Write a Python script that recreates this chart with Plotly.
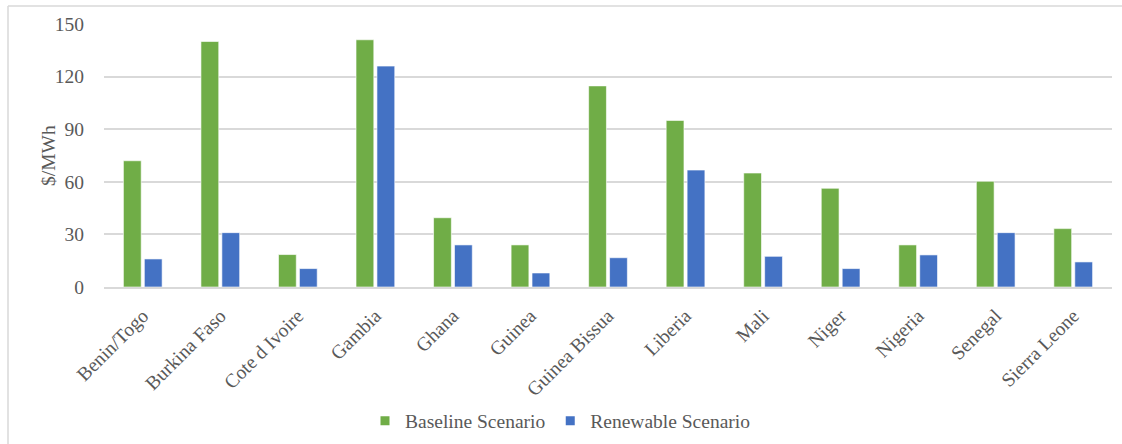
import plotly.graph_objects as go

countries = ["Benin/Togo", "Burkina Faso", "Cote d Ivoire", "Gambia", "Ghana", "Guinea",
             "Guinea Bissua", "Liberia", "Mali", "Niger", "Nigeria", "Senegal", "Sierra Leone"]
baseline = [72, 140, 18.5, 141, 39.5, 24, 114.7, 95, 65, 56.3, 24, 60.3, 33.3]
renewable = [16, 31, 10.5, 126, 24, 8, 16.7, 66.7, 17.5, 10.5, 18.3, 31, 14.3]
yticks = [0, 30, 60, 90, 120, 150]

GREEN = "#70ad47"
BLUE = "#4472c4"
FONT = "Liberation Serif"
GREY = "#595959"
FS = 19.5

fig = go.Figure()
fig.add_trace(go.Bar(x=countries, y=baseline, name="Baseline Scenario", marker_color=GREEN,
                     marker_line=dict(color="rgba(255,255,255,0.6)", width=1), showlegend=False))
fig.add_trace(go.Bar(x=countries, y=renewable, name="Renewable Scenario", marker_color=BLUE,
                     marker_line=dict(color="rgba(255,255,255,0.6)", width=1), showlegend=False))
# legend proxies
fig.add_trace(go.Scatter(x=[None], y=[None], mode="markers", name="Baseline Scenario",
                         marker=dict(symbol="square", size=9, color=GREEN)))
fig.add_trace(go.Scatter(x=[None], y=[None], mode="markers", name="Renewable Scenario",
                         marker=dict(symbol="square", size=9, color=BLUE)))

L, R, T, B = 104, 10, 24, 157
W, H = 1122, 444
pw = W - L - R
ph = H - T - B

def px(xpix):
    return (xpix - L) / pw

def py(ypix):
    return (H - B - ypix) / ph

fig.update_layout(
    width=W, height=H,
    margin=dict(l=L, r=R, t=T, b=B, autoexpand=False),
    paper_bgcolor="white", plot_bgcolor="white",
    font=dict(family=FONT, size=FS, color=GREY),
    barmode="group", bargap=0.46, bargroupgap=0.15,
    showlegend=True,
    legend=dict(orientation="h", xref="container", yref="container",
                x=560 / W, y=1 - 421 / H, xanchor="center", yanchor="middle",
                font=dict(family=FONT, size=FS, color=GREY), itemwidth=30,
                bgcolor="rgba(0,0,0,0)", tracegroupgap=0),
    shapes=[
        dict(type="line", xref="paper", yref="paper", x0=px(8), x1=px(1130), y0=py(6), y1=py(6),
             line=dict(color="#d9d9d9", width=1.5)),
        dict(type="line", xref="paper", yref="paper", x0=px(8), x1=px(8), y0=py(6), y1=py(460),
             line=dict(color="#d9d9d9", width=1.5)),
    ],
    annotations=[
        dict(text="$/MWh", xref="paper", yref="paper", x=px(48), y=py(156),
             xanchor="center", yanchor="middle", textangle=-90, showarrow=False,
             font=dict(family=FONT, size=FS, color=GREY)),
    ],
)
fig.update_xaxes(
    tickangle=-45, tickfont=dict(family=FONT, size=FS, color=GREY),
    showgrid=False, showline=True, linecolor="#d9d9d9", linewidth=1.5,
    ticks="", fixedrange=True, automargin=False, ticklabelstandoff=8,
)
fig.update_yaxes(
    range=[0, 150], tickvals=yticks, ticktext=[str(v) for v in yticks],
    tickfont=dict(family=FONT, size=FS, color=GREY),
    showgrid=True, gridcolor="#d9d9d9", gridwidth=1.5,
    zeroline=False, showline=False, automargin=False,
    ticks="outside", ticklen=15, tickcolor="rgba(0,0,0,0)",
)

fig.write_html("out.html")
